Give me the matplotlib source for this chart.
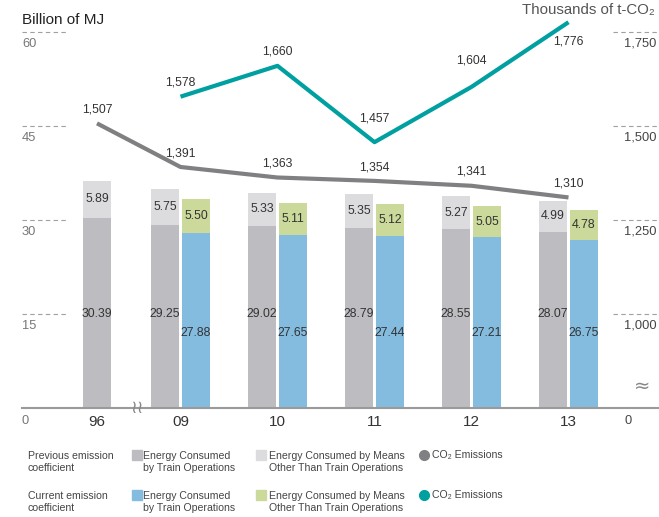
#!/usr/bin/env python3
# -*- coding: utf-8 -*-
"""
Energy consumed (billion MJ) + CO2 emissions (thousand t-CO2)
- bars: previous / current emission coefficient
- lines: CO2 on right axis
"""
import matplotlib
matplotlib.use("Agg")
import matplotlib.pyplot as plt
from matplotlib.lines import Line2D

plt.rcParams["font.family"] = ["Liberation Sans", "DejaVu Sans"]

# --- data ---
years = ["96", "09", "10", "11", "12", "13"]
prev_train = [30.39, 29.25, 29.02, 28.79, 28.55, 28.07]
prev_other = [5.89, 5.75, 5.33, 5.35, 5.27, 4.99]
cur_train = [27.88, 27.65, 27.44, 27.21, 26.75]      # 09~13
cur_other = [5.50, 5.11, 5.12, 5.05, 4.78]
prev_co2 = [1507, 1391, 1363, 1354, 1341, 1310]
cur_co2 = [1578, 1660, 1457, 1604, 1776]             # 09~13
left_ticks = [15, 30, 45, 60]
right_ticks = [1000, 1250, 1500, 1750]

C_PT, C_PO = "#bdbdc1", "#dcdcdf"
C_CT, C_CO = "#84bce0", "#cbd99b"
C_PL, C_CL = "#808083", "#00a0a0"
TXT = "#333333"

W, H = 659, 517
fig = plt.figure(figsize=(W / 100, H / 100), dpi=100)
ax = fig.add_axes([22 / W, 109 / H, 637 / W, 408 / H])
YTOP = 408 / 94 * 15
ax.set_xlim(-0.634, 5.933); ax.set_ylim(0, YTOP)
ax.axis("off")
ax2 = ax.twinx()
ax2.set_ylim(750, 750 + YTOP * 250 / 15)
ax2.axis("off")

# x 위치: 96은 따로, 09~13 그룹
xs = [0.139] + list(range(1, len(years)))
bw, off = 0.289, 0.16
px = [xs[0]] + [x - off for x in xs[1:]]
cx = [x + off for x in xs[1:]]

ax.bar(px, prev_train, bw, color=C_PT, zorder=2)
ax.bar(px, prev_other, bw, bottom=prev_train, color=C_PO, zorder=2)
ax.bar(cx, cur_train, bw, color=C_CT, zorder=2)
ax.bar(cx, cur_other, bw, bottom=cur_train, color=C_CO, zorder=2)

FS_BAR = 8.8
for x, t, o in zip(px, prev_train, prev_other):
    ax.text(x, 15.0, f"{t:.2f}", ha="center", va="center", fontsize=FS_BAR, color=TXT, zorder=3)
    ax.text(x, t + o / 2, f"{o:.2f}", ha="center", va="center", fontsize=FS_BAR, color=TXT, zorder=3)
for x, t, o in zip(cx, cur_train, cur_other):
    ax.text(x, 12.0, f"{t:.2f}", ha="center", va="center", fontsize=FS_BAR, color=TXT, zorder=3)
    ax.text(x, t + o / 2, f"{o:.2f}", ha="center", va="center", fontsize=FS_BAR, color=TXT, zorder=3)

# 축 / 눈금
ax.axhline(0, color="#9a9a9a", lw=1.5, clip_on=False, zorder=4)
for v in left_ticks:
    ax.hlines(v, -0.634, -0.17, colors="#a0a0a0", lw=0.8, linestyles=(0, (4, 3)))
    ax.annotate(str(v), (-0.634, v), xytext=(0, -4), textcoords="offset points",
                ha="left", va="top", fontsize=9.3, color="#777777")
for v in right_ticks:
    ax2.hlines(v, 5.46, 5.933, colors="#a0a0a0", lw=0.8, linestyles=(0, (4, 3)))
    ax2.annotate(f"{v:,}", (5.91, v), xytext=(0, -4), textcoords="offset points",
                 ha="right", va="top", fontsize=9.3, color="#444444")
ax.annotate("0", (-0.634, 0), xytext=(0, -5), textcoords="offset points",
            ha="left", va="top", fontsize=9.3, color="#777777")
ax.annotate("0", (5.61, 0), xytext=(0, -5), textcoords="offset points",
            ha="center", va="top", fontsize=9.3, color="#444444")
for x, y in zip(xs, years):
    ax.annotate(y, (x, 0), xytext=(0, -5), textcoords="offset points",
                ha="center", va="top", fontsize=11, color=TXT)
ax.text(0.552, 0, "≀≀", ha="center", va="center", fontsize=13, color="#888888",
        family="DejaVu Sans", zorder=5)
ax.text(5.755, 3.5, "≈", ha="center", va="center", fontsize=14, color="#888888",
        family="DejaVu Sans")

# CO2 선
ax2.plot(xs, prev_co2, color=C_PL, lw=3, solid_capstyle="butt", zorder=5)
ax2.plot(xs[1:], cur_co2, color=C_CL, lw=3, solid_capstyle="butt", zorder=5)
for x, v in zip(xs, prev_co2):
    ax2.annotate(f"{v:,}", (x, v), xytext=(0, 10), textcoords="offset points",
                 ha="center", va="center", fontsize=8.8, color=TXT)
cur_dy = [10, 10, 17, 19, -14]
for x, v, dy in zip(xs[1:], cur_co2, cur_dy):
    ax2.annotate(f"{v:,}", (x, v), xytext=(0, dy), textcoords="offset points",
                 ha="center", va="center", fontsize=8.8, color=TXT)

# 제목
fig.text(22 / W, 1 - 20 / H, "Billion of MJ", ha="left", va="center", fontsize=11, color="#222222")
fig.text(655 / W, 1 - 10 / H, "Thousands of t-CO₂", ha="right", va="center", fontsize=10.8, color="#555555")

# 범례
LT = "#444444"
FS_LEG = 7.6
rows = [(462, "Previous emission\ncoefficient", C_PT, C_PO, C_PL),
        (502, "Current emission\ncoefficient", C_CT, C_CO, C_CL)]
for y, lab, c1, c2, c3 in rows:
    fy = 1 - y / H
    kw = dict(va="center", ha="left", fontsize=FS_LEG, color=LT, linespacing=1.35)
    fig.text(28 / W, fy, lab, **kw)
    fig.text(143 / W, fy, "Energy Consumed\nby Train Operations", **kw)
    fig.text(269 / W, fy, "Energy Consumed by Means\nOther Than Train Operations", **kw)
    my = 1 - (y - 7) / H
    fig.text(432 / W, my, "CO₂ Emissions", va="center", ha="left", fontsize=FS_LEG, color=LT)
    fig.add_artist(Line2D([136.5 / W], [my], marker="s", ms=6.5, color=c1, transform=fig.transFigure))
    fig.add_artist(Line2D([261 / W], [my], marker="s", ms=6.5, color=c2, transform=fig.transFigure))
    fig.add_artist(Line2D([424 / W], [my], marker="o", ms=7, color=c3, transform=fig.transFigure))

fig.savefig("out.png", dpi=100)
